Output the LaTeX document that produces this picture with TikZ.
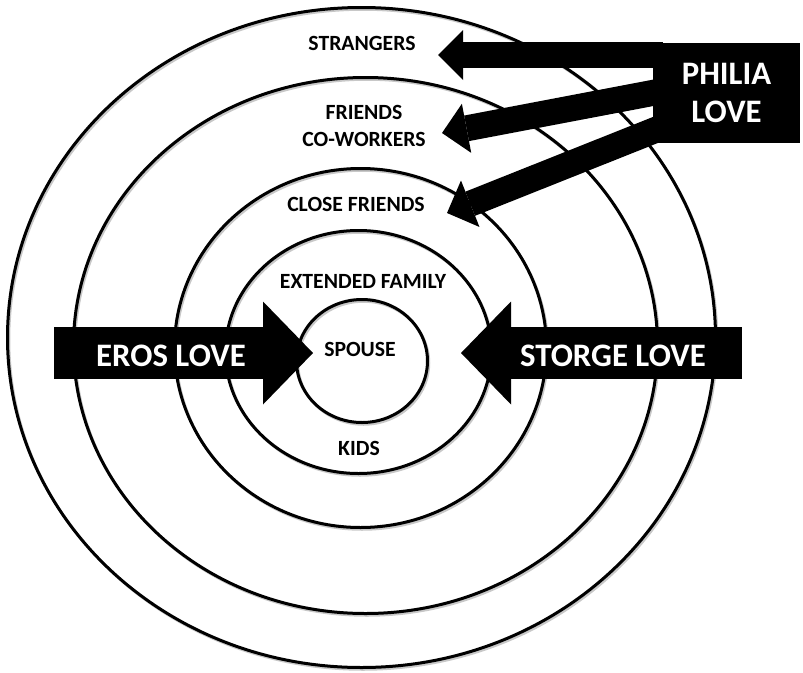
\documentclass[tikz,border=0pt]{standalone}
\usepackage{fontspec}
\setmainfont{Carlito}
\usepackage{tikz}
\usetikzlibrary{positioning,arrows.meta}
\definecolor{ringshade}{HTML}{C8C8C8}

\tikzset{
  ring/.style={draw=black, line width=3pt},
  ringshadow/.style={draw=ringshade, line width=2.5pt},
  circlabel/.style={font=\bfseries\fontsize{21.7}{27.5}\selectfont, inner sep=0pt},
  biglabel/.style={font=\bfseries\fontsize{32.8}{38}\selectfont, text=white, inner sep=0pt},
  philiabox/.style={biglabel, fill=black, align=center, minimum width=147pt, minimum height=100pt},
  bigarrow/.style={line width=52pt, -{Triangle[length=50pt,width=103pt,line width=0pt]}},
  smallarrow/.style={line width=26pt, -{Triangle[length=25pt,width=50pt,line width=0pt]}},
}

\begin{document}
\begin{tikzpicture}[x=1pt, y=-1pt]
  \useasboundingbox (0,0) rectangle (803,672);
  % rings, outermost first
  \foreach \cx/\cy/\rx/\ry in {361.5/337.5/354/330, 365.5/345.5/292/268, 360.5/348/186/179.5, 358.5/352/133/121.5, 362/361/65.5/61.5} {
    \draw[ringshadow] (\cx+1.5,\cy+2) ellipse [x radius=\rx, y radius=\ry];
    \draw[ring] (\cx,\cy) ellipse [x radius=\rx, y radius=\ry];
  }
  % ring labels
  \node[circlabel] (strangers) at (362,43.5) {STRANGERS};
  \node[circlabel, align=center] (friends) at (364,126) {FRIENDS\\CO-WORKERS};
  \node[circlabel] (closefr) at (356,204) {CLOSE FRIENDS};
  \node[circlabel] (extfam) at (363,281) {EXTENDED FAMILY};
  \node[circlabel] (spouse) at (360,349.5) {SPOUSE};
  \node[circlabel] (kids) at (359,448.5) {KIDS};
  % philia
  \node[philiabox] (philia) at (726.5,93) {PHILIA\\LOVE};
  \coordinate (strtip) at (438,55);
  \coordinate (frtip) at (442,133);
  \coordinate (cftip) at (447,213);
  \draw[smallarrow] ([xshift=10pt,yshift=38pt]philia.west) -- (strtip);
  \draw[smallarrow] ([xshift=10pt,yshift=2pt]philia.west) -- (frtip);
  \draw[smallarrow] ([xshift=9.3pt,yshift=-34.3pt]philia.west) -- (cftip);
  % eros and storge
  \coordinate (erosstart) at (54,353);
  \coordinate (erostip) at (313,353);
  \coordinate (storgestart) at (742,353);
  \coordinate (storgetip) at (461,353);
  \draw[bigarrow] (erosstart) -- (erostip);
  \draw[bigarrow] (storgestart) -- (storgetip);
  \node[biglabel] (eros) at (171,355.5) {EROS LOVE};
  \node[biglabel] (storge) at (613,355.5) {STORGE LOVE};
\end{tikzpicture}
\end{document}
